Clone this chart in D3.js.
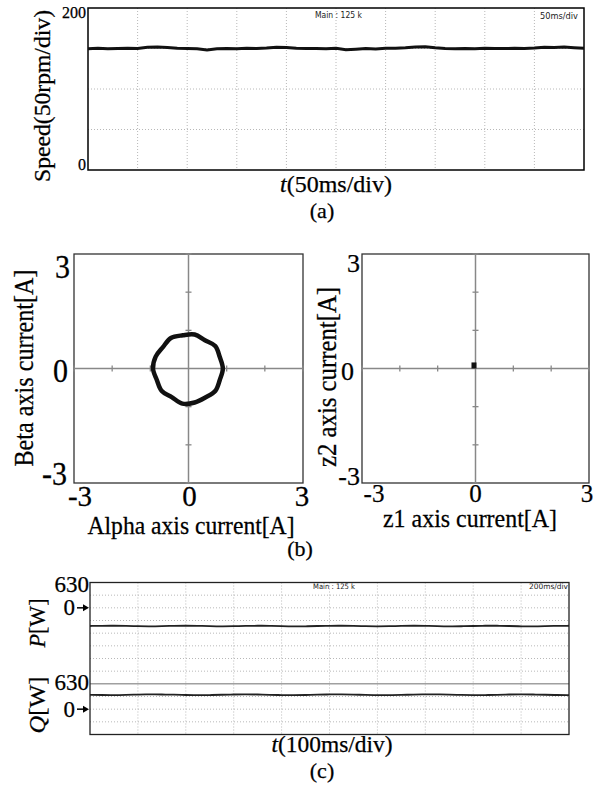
<!DOCTYPE html>
<html><head><meta charset="utf-8">
<script src="https://cdn.jsdelivr.net/npm/d3@7/dist/d3.min.js"></script>
<style>body{margin:0;background:#fff}svg{display:block}</style>
</head><body>
<svg id="c" width="603" height="786"></svg>
<script>
// ---------------- DATA ----------------
// (a) speed trace, rpm, sampled every 10 ms over 500 ms
const speedTimes = d3.range(0, 501, 10);
const speedValues = [149.8,150.2,149.6,150.0,150.3,149.9,151.5,151.8,151.2,150.4,
  150.0,149.7,148.2,149.6,150.1,149.8,150.3,150.0,150.6,151.6,
  151.2,150.2,149.9,150.1,149.6,150.2,148.4,149.2,150.0,149.5,
  150.3,150.4,151.0,151.9,152.1,150.8,150.1,149.8,150.0,149.7,
  150.2,150.0,149.9,150.3,150.1,150.6,151.5,151.2,151.8,151.0,150.4];
const speedTickLabels = ["0", "200"];

// (b) alpha-beta current locus [A]
const alphaValues = [0.90,0.82,0.70,0.43,0.16,-0.15,-0.46,-0.67,-0.86,-0.93,-0.83,-0.70,-0.44,-0.16,0.16,0.44,0.70,0.82];
const betaValues  = [0.00,0.30,0.59,0.74,0.89,0.87,0.80,0.56,0.31,0.00,-0.30,-0.59,-0.75,-0.92,-0.89,-0.76,-0.59,-0.30];
// (b) z1-z2 current (single cluster)
const z1Values = [-0.04];
const z2Values = [0.08];
const xyTickValues = [-3,-2,-1,1,2,3];
const xyTickLabels = ["-3","0","3"];

// (c) active / reactive power [W], sampled every 25 ms
const powerTimes = d3.range(0, 1001, 25);
const pValues = [-452,-446,-444,-450,-458,-462,-456,-448,-444,-448,-456,-462,-458,-450,-445,-446,-454,-461,-460,-452,
  -446,-444,-450,-458,-462,-457,-449,-444,-447,-455,-461,-459,-451,-445,-445,-452,-460,-462,-455,-448,-446];
const qValues = [355,352,350,356,364,368,366,360,352,348,350,358,366,370,365,357,350,347,352,360,
  367,369,363,355,349,348,354,362,368,368,361,353,348,350,357,365,369,366,358,351,350];
const powerTickLabels = ["0", "630"];

// ---------------- DRAWING ----------------
const svg = d3.select("#c");
const serif = "'Liberation Serif','Times New Roman',serif";
const narrow = "'DejaVu Sans Condensed','Liberation Sans Narrow','DejaVu Sans',sans-serif";

function label(g, parts, x, y, size, o = {}) {
  if (typeof parts === "string") parts = [[parts, false]];
  const t = g.append("text").attr("font-family", o.font || serif).attr("font-size", size)
    .attr("fill", o.fill || "#000")
    .attr("text-anchor", o.anchor || "middle")
    .attr("transform", `translate(${x},${y})` + (o.rot ? ` rotate(${o.rot})` : "") + (o.sy ? ` scale(1,${o.sy})` : ""));
  if (!o.font) t.attr("stroke", "#000").attr("stroke-width", 0.25);
  parts.forEach(([s, it]) => t.append("tspan").attr("font-style", it ? "italic" : "normal").text(s));
  if (o.len) t.attr("textLength", o.len).attr("lengthAdjust", "spacingAndGlyphs");
  return t;
}

// ===== Panel (a) =====
{
  const g = svg.append("g");
  const x = d3.scaleLinear([0, 500], [88, 584]);
  const y = d3.scaleLinear([0, 200], [170, 8]);
  g.append("g").selectAll("line").data(d3.range(50, 500, 50)).join("line")
    .attr("x1", d => x(d)).attr("x2", d => x(d)).attr("y1", y(200)).attr("y2", y(0))
    .attr("stroke", "#b8b8b8").attr("stroke-dasharray", "1,2");
  g.append("g").selectAll("line").data([50, 100, 150]).join("line")
    .attr("y1", d => y(d)).attr("y2", d => y(d)).attr("x1", x(0)).attr("x2", x(500))
    .attr("stroke", "#b8b8b8").attr("stroke-dasharray", "1,2");
  g.append("rect").attr("x", x(0)).attr("y", y(200)).attr("width", x(500) - x(0)).attr("height", y(0) - y(200))
    .attr("fill", "none").attr("stroke", "#000").attr("stroke-width", 1.5);
  g.append("path").datum(speedValues.map((v, i) => [speedTimes[i], v]))
    .attr("d", d3.line().x(d => x(d[0])).y(d => y(d[1])))
    .attr("fill", "none").attr("stroke", "#111").attr("stroke-width", 3);
  label(g, speedTickLabels[1], x(0) - 2, y(200) + 10, 16, {anchor: "end"});
  label(g, speedTickLabels[0], x(0) - 2, y(0), 16, {anchor: "end"});
  label(g, "Speed(50rpm/div)", 50, 96, 23, {rot: -90, len: 172});
  label(g, [["t", true], ["(50ms/div)", false]], 336, 192, 23, {len: 112});
  label(g, "(a)", 322, 218, 22);
  label(g, "Main : 125 k", 315, 18, 8, {anchor: "start", font: narrow, len: 47, fill: "#222"});
  label(g, "50ms/div", 540, 19, 8, {anchor: "start", font: narrow, len: 38, fill: "#222"});
}

// ===== Panel (b) =====
function xyPanel(x0, x1) {
  const g = svg.append("g");
  const x = d3.scaleLinear([-3, 3], [x0, x1]);
  const y = d3.scaleLinear([-3, 3], [483, 254]);
  g.append("rect").attr("x", x(-3)).attr("y", y(3)).attr("width", x(3) - x(-3)).attr("height", y(-3) - y(3))
    .attr("fill", "none").attr("stroke", "#333").attr("stroke-width", 1.3);
  g.append("line").attr("x1", x(-3)).attr("x2", x(3)).attr("y1", y(0)).attr("y2", y(0)).attr("stroke", "#888").attr("stroke-width", 1.5);
  g.append("line").attr("y1", y(-3)).attr("y2", y(3)).attr("x1", x(0)).attr("x2", x(0)).attr("stroke", "#888").attr("stroke-width", 1.5);
  g.append("g").selectAll("line").data(xyTickValues).join("line")
    .attr("x1", d => x(d)).attr("x2", d => x(d)).attr("y1", y(0) - 3).attr("y2", y(0) + 3).attr("stroke", "#888").attr("stroke-width", 1.3);
  g.append("g").selectAll("line").data(xyTickValues).join("line")
    .attr("y1", d => y(d)).attr("y2", d => y(d)).attr("x1", x(0) - 3).attr("x2", x(0) + 3).attr("stroke", "#888").attr("stroke-width", 1.3);
  return {g, x, y};
}
{
  const {g, x, y} = xyPanel(74, 303);
  g.append("path").datum(alphaValues.map((a, i) => [a, betaValues[i]]))
    .attr("d", d3.line().x(d => x(d[0])).y(d => y(d[1])).curve(d3.curveCatmullRomClosed.alpha(0.5)))
    .attr("fill", "none").attr("stroke", "#111").attr("stroke-width", 4.5).attr("stroke-linejoin", "round");
  label(g, xyTickLabels[2], 70, 278, 30, {anchor: "end", sy: 1.12});
  label(g, xyTickLabels[1], 68, 382, 30, {anchor: "end", sy: 1.12});
  label(g, xyTickLabels[0], 67, 485, 30, {anchor: "end", sy: 1.12});
  label(g, xyTickLabels[0], 80, 506, 29, {sy: 1.05});
  label(g, xyTickLabels[1], x(0) + 1, 506, 29, {sy: 1.05});
  label(g, xyTickLabels[2], 302, 506, 29, {sy: 1.05});
  label(g, "Alpha axis current[A]", 191, 534, 24, {len: 207, sy: 1.04});
  label(g, "Beta axis current[A]", 33, 368, 24, {rot: -90, len: 197, sy: 1.12});
}
{
  const {g, x, y} = xyPanel(362, 589);
  g.append("g").selectAll("rect").data(z1Values.map((v, i) => [v, z2Values[i]])).join("rect")
    .attr("x", d => x(d[0]) - 2.5).attr("y", d => y(d[1]) - 3).attr("width", 5).attr("height", 6).attr("fill", "#111");
  label(g, xyTickLabels[2], 360, 272, 26, {anchor: "end"});
  label(g, xyTickLabels[1], 354, 380, 26, {anchor: "end"});
  label(g, xyTickLabels[0], 360, 485, 26, {anchor: "end"});
  label(g, xyTickLabels[0], 374, 502, 25);
  label(g, xyTickLabels[1], x(0), 502, 25);
  label(g, xyTickLabels[2], 587, 502, 25);
  label(g, "z1 axis current[A]", 470, 527, 24, {len: 174, sy: 1.04});
  label(g, "z2 axis current[A]", 336, 377, 24, {rot: -90, len: 180, sy: 1.12});
  label(svg, "(b)", 300, 556, 22);
}

// ===== Panel (c) =====
{
  const g = svg.append("g");
  const x = d3.scaleLinear([0, 1000], [90, 569]);
  const grid = d3.scaleLinear([0, 12], [582.5, 734.5]);
  const yP = d3.scaleLinear([0, 630], [grid(2), grid(0)]);
  const yQ = d3.scaleLinear([0, 630], [grid(10), grid(8)]);
  g.append("g").selectAll("line").data(d3.range(100, 1000, 100)).join("line")
    .attr("x1", d => x(d)).attr("x2", d => x(d)).attr("y1", grid(0)).attr("y2", grid(12))
    .attr("stroke", "#b8b8b8").attr("stroke-dasharray", "1,2");
  g.append("g").selectAll("line").data(d3.range(1, 12).filter(d => d !== 8)).join("line")
    .attr("y1", d => grid(d)).attr("y2", d => grid(d)).attr("x1", x(0)).attr("x2", x(1000))
    .attr("stroke", "#b8b8b8").attr("stroke-dasharray", "1,2");
  g.append("line").attr("y1", yQ(630)).attr("y2", yQ(630)).attr("x1", x(0)).attr("x2", x(1000))
    .attr("stroke", "#a0a0a0").attr("stroke-width", 1.5);
  g.append("rect").attr("x", x(0)).attr("y", grid(0)).attr("width", x(1000) - x(0)).attr("height", grid(12) - grid(0))
    .attr("fill", "none").attr("stroke", "#222").attr("stroke-width", 1.3);
  const line = (ys) => d3.line().x(d => x(d[0])).y(d => ys(d[1])).curve(d3.curveBasis);
  g.append("path").datum(pValues.map((v, i) => [powerTimes[i], v])).attr("d", line(yP))
    .attr("fill", "none").attr("stroke", "#222").attr("stroke-width", 1.8);
  g.append("path").datum(qValues.map((v, i) => [powerTimes[i], v])).attr("d", line(yQ))
    .attr("fill", "none").attr("stroke", "#222").attr("stroke-width", 1.8);
  label(g, powerTickLabels[1], 89, yP(630) + 9.5, 23, {anchor: "end"});
  label(g, powerTickLabels[0], 75, yP(0) + 7.5, 23, {anchor: "end"});
  label(g, powerTickLabels[1], 89, yQ(630) + 6.5, 23, {anchor: "end"});
  label(g, powerTickLabels[0], 75, yQ(0) + 7.5, 23, {anchor: "end"});
  [yP(0), yQ(0)].forEach(yy => {
    g.append("line").attr("x1", 77).attr("x2", 84).attr("y1", yy).attr("y2", yy).attr("stroke", "#000").attr("stroke-width", 1.5);
    g.append("path").attr("d", `M${x(0) - 1},${yy} L${83},${yy - 3.5} L${83},${yy + 3.5} Z`).attr("fill", "#000");
  });
  label(g, [["P", true], ["[W]", false]], 45, 623, 23, {rot: -90, len: 49});
  label(g, [["Q", true], ["[W]", false]], 45, 705, 23, {rot: -90, len: 57});
  label(g, [["t", true], ["(100ms/div)", false]], 332, 752, 23, {len: 121});
  label(g, "(c)", 322, 778, 22);
  label(g, "Main : 125 k", 313, 589, 7.5, {anchor: "start", font: narrow, len: 42, fill: "#222"});
  label(g, "200ms/div", 529, 589, 7.5, {anchor: "start", font: narrow, len: 39, fill: "#222"});
}
</script>
</body></html>
